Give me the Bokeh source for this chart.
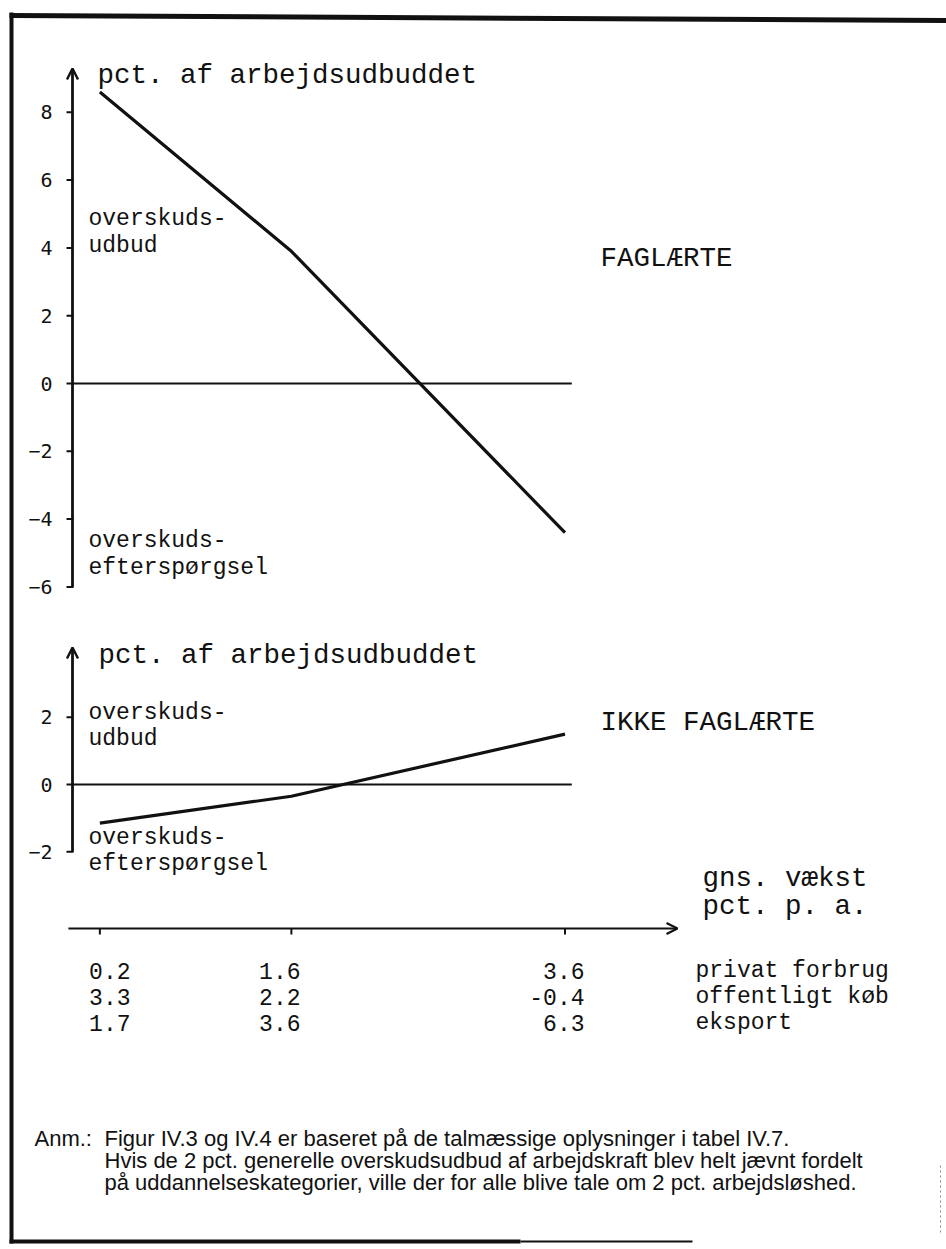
from bokeh.plotting import figure
from bokeh.models import Range1d, Arrow, OpenHead
from bokeh.core.properties import value
from bokeh.embed import file_html
from bokeh.resources import INLINE

# ---------------- data ----------------
privat_forbrug = [0.2, 1.6, 3.6]          # x axis: gns. vækst pct. p. a.
offentligt_koeb = [3.3, 2.2, -0.4]
eksport = [1.7, 3.6, 6.3]
faglaerte = [8.6, 3.9, -4.4]              # pct. af arbejdsudbuddet
ikke_faglaerte = [-1.15, -0.35, 1.5]
top_ticks = [8, 6, 4, 2, 0, -2, -4, -6]
bottom_ticks = [2, 0, -2]
row_names = ["privat forbrug", "offentligt køb", "eksport"]
y_title = "pct. af arbejdsudbuddet"
x_title = ["gns. vækst", "pct. p. a."]
top_label = "FAGLÆRTE"
bottom_label = "IKKE FAGLÆRTE"
supply_label = ["overskuds-", "udbud"]
demand_label = ["overskuds-", "efterspørgsel"]
note_lines = [
    "Figur IV.3 og IV.4 er baseret på de talmæssige oplysninger i tabel IV.7.",
    "Hvis de 2 pct. generelle overskudsudbud af arbejdskraft blev helt jævnt fordelt",
    "på uddannelseskategorier, ville der for alle blive tale om 2 pct. arbejdsløshed.",
]

# ---------------- layout (page pixels) ----------------
W, H, M = 946, 1249, 0
X0, XS = 72.0, 136.8          # pixel of x=0, px per unit
TZ, TS = 383.0, 33.9          # top chart zero pixel, px per unit
BZ, BS = 784.0, 33.6          # bottom chart zero pixel, px per unit
L, R, T, B = M, M + W, M, M + H

p = figure(width=W, height=H, output_backend="svg", toolbar_location=None,
           x_range=Range1d((L - X0) / XS, (R - X0) / XS),
           y_range=Range1d((TZ - B) / TS, (TZ - T) / TS),
           x_axis_location=None, y_axis_location=None, min_border=0)
p.extra_y_ranges = {"bot": Range1d((BZ - B) / BS, (BZ - T) / BS),
                    "pg": Range1d(B, T)}
p.extra_x_ranges = {"pgx": Range1d(L, R)}
p.grid.visible = False
p.outline_line_color = None
p.background_fill_color = "white"
p.border_fill_color = "white"

INK = "#111111"
MONO = value("Liberation Mono")
TICKF = value("DejaVu Sans Mono")
NOTEF = value("Liberation Sans")

# ---------------- frame of the scanned page ----------------
p.segment(x0=[11], y0=[12], x1=[11], y1=[1243], line_width=4, color=INK,
          x_range_name="pgx", y_range_name="pg")
p.segment(x0=[9], y0=[15], x1=[946], y1=[20], line_width=5, color=INK,
          x_range_name="pgx", y_range_name="pg")
p.segment(x0=[9], y0=[1241], x1=[520], y1=[1241], line_width=4, color=INK,
          x_range_name="pgx", y_range_name="pg")
p.segment(x0=[520], y0=[1241], x1=[692], y1=[1241], line_width=2, color=INK,
          x_range_name="pgx", y_range_name="pg")
p.segment(x0=[940], y0=[1165], x1=[940], y1=[1235], line_width=1, color="#888888",
          line_dash="2 3", x_range_name="pgx", y_range_name="pg")

# ---------------- zero lines ----------------
zero_end = privat_forbrug[-1] + 0.05
p.line(x=[0, zero_end], y=[0, 0], line_width=2, color=INK)
p.line(x=[0, zero_end], y=[0, 0], line_width=2, color=INK, y_range_name="bot")

# ---------------- data lines ----------------
p.line(x=privat_forbrug, y=faglaerte, line_width=3.2, color=INK)
p.line(x=privat_forbrug, y=ikke_faglaerte, line_width=3.2, color=INK,
       y_range_name="bot")

# ---------------- y axes ----------------
top_tip = (TZ - 68) / TS
bot_tip = (BZ - 647) / BS
p.add_layout(Arrow(end=OpenHead(size=11, line_width=2.4, line_color=INK),
                   x_start=0, y_start=min(top_ticks), x_end=0, y_end=top_tip,
                   line_width=2.8, line_color=INK))
p.add_layout(Arrow(end=OpenHead(size=11, line_width=2.4, line_color=INK),
                   x_start=0, y_start=min(bottom_ticks), x_end=0, y_end=bot_tip,
                   line_width=2.8, line_color=INK, y_range_name="bot"))

def fmt(v):
    return str(v) if v >= 0 else "\u2212" + str(-v)

p.segment(x0=[66] * len(top_ticks), x1=[73] * len(top_ticks), y0=top_ticks,
          y1=top_ticks, line_width=2, color=INK, x_range_name="pgx")
p.segment(x0=[66] * len(bottom_ticks), x1=[73] * len(bottom_ticks), y0=bottom_ticks,
          y1=bottom_ticks, line_width=2, color=INK, x_range_name="pgx",
          y_range_name="bot")
p.text(x=[52] * len(top_ticks), y=top_ticks, text=[fmt(v) for v in top_ticks],
       text_font=TICKF, text_font_size="20px", text_align="right",
       text_baseline="middle", text_color=INK, x_range_name="pgx")
p.text(x=[52] * len(bottom_ticks), y=bottom_ticks, text=[fmt(v) for v in bottom_ticks],
       text_font=TICKF, text_font_size="20px", text_align="right",
       text_baseline="middle", text_color=INK, x_range_name="pgx",
       y_range_name="bot")

# ---------------- x axis ----------------
XAXIS_Y = 928
x_tip = (677 - X0) / XS
p.add_layout(Arrow(end=OpenHead(size=11, line_width=2.2, line_color=INK),
                   x_start=-0.03, y_start=XAXIS_Y, x_end=x_tip, y_end=XAXIS_Y,
                   line_width=2.2, line_color=INK, y_range_name="pg"))
p.segment(x0=privat_forbrug, x1=privat_forbrug, y0=[XAXIS_Y] * 3,
          y1=[XAXIS_Y + 6] * 3, line_width=2, color=INK, y_range_name="pg")

# ---------------- texts ----------------
def txt(xs, ys, texts, size, font=MONO, align="left"):
    p.text(x=xs, y=ys, text=texts, text_font=font, text_font_size=size,
           text_align=align, text_baseline="alphabetic", text_color=INK,
           x_range_name="pgx", y_range_name="pg")

BIG, SMALL = "27.5px", "23px"
txt([97, 98], [75, 655], [y_title, y_title], BIG)
txt([600], [258], [top_label], BIG)
txt([600], [722], [bottom_label], BIG)
txt([702, 702], [878, 906], x_title, BIG)
txt([88, 88], [218, 245], supply_label, SMALL)
txt([88, 88], [540, 567], demand_label, SMALL)
txt([88, 88], [712, 738], supply_label, SMALL)
txt([88, 88], [837, 863], demand_label, SMALL)

row_y = [970, 996, 1022]
col_right = [130, 300, 584]
rows = [privat_forbrug, offentligt_koeb, eksport]
for ry, vals in zip(row_y, rows):
    txt(col_right, [ry] * 3, [f"{v:.1f}" for v in vals], SMALL, align="right")
txt([695] * 3, row_y, row_names, SMALL)

txt([34], [1138], ["Anm.:"], "22px", font=NOTEF)
txt([104] * 3, [1138, 1160, 1182], note_lines, "22px", font=NOTEF)

open("out.html", "w").write(file_html(p, INLINE))
